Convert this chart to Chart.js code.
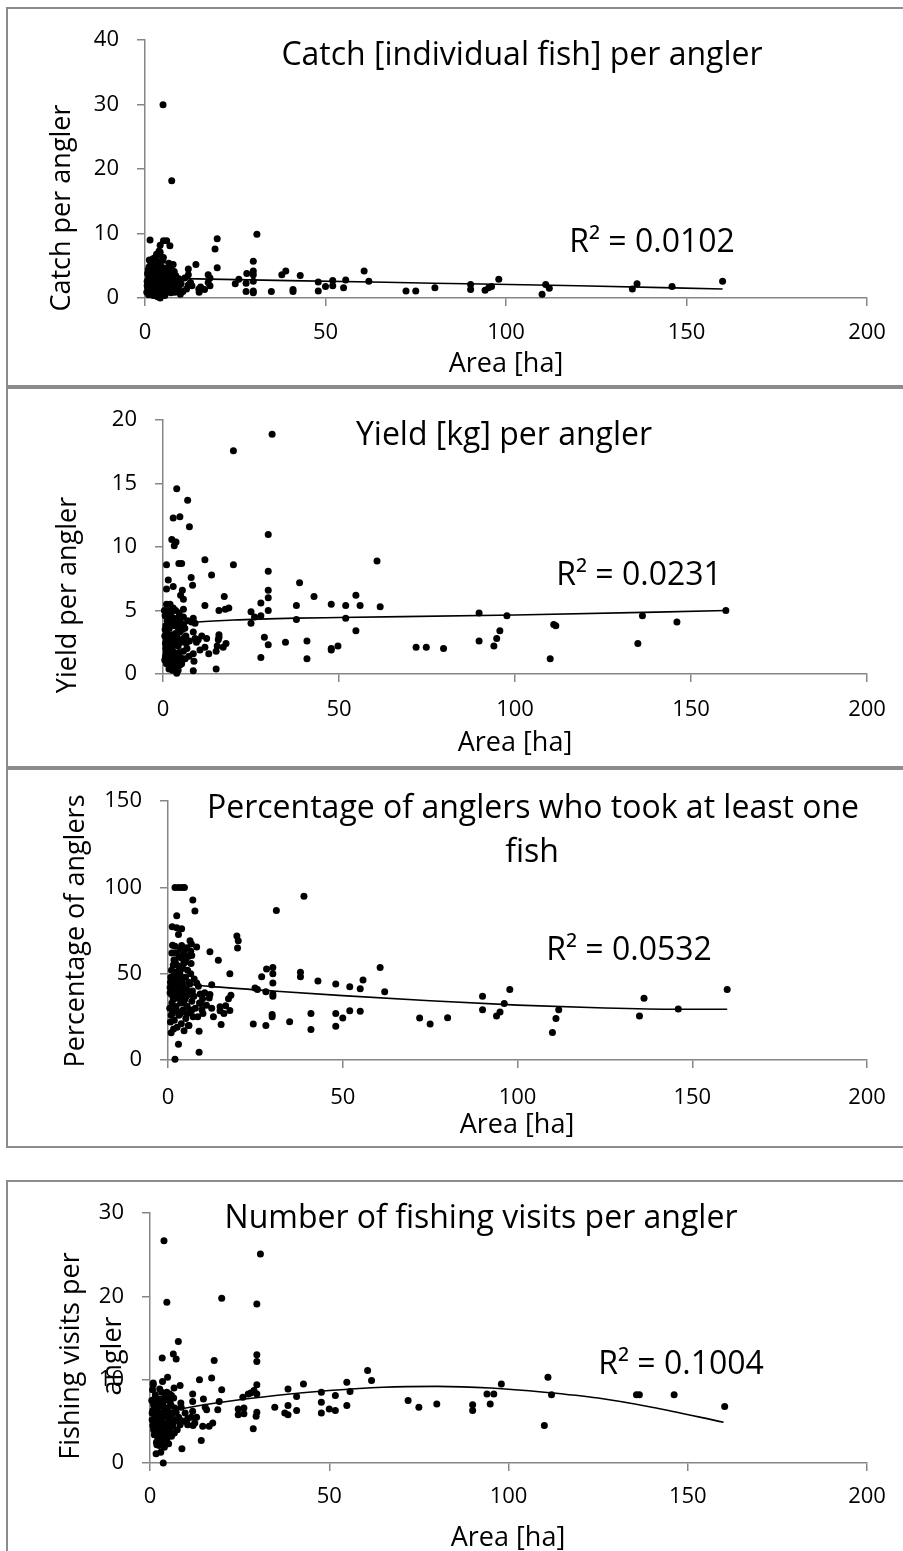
<!DOCTYPE html>
<html>
<head>
<meta charset="utf-8">
<script src="https://cdn.jsdelivr.net/npm/chart.js"></script>
<style>
body{margin:0;background:#fff;width:903px;height:1551px;overflow:hidden;position:relative;}
.box{position:absolute;left:6px;width:1000px;border:2px solid #8c8c8c;box-sizing:border-box;}
.panel{position:absolute;left:0;width:903px;}
</style>
</head>
<body>
<div class="box" style="top:7px;height:380px"></div>
<div class="box" style="top:387px;height:381px"></div>
<div class="box" style="top:768px;height:380px"></div>
<div class="box" style="top:1180px;height:500px"></div>

<div class="panel" style="top:9px;height:376px"><canvas id="c1"></canvas></div>
<div class="panel" style="top:389px;height:377px"><canvas id="c2"></canvas></div>
<div class="panel" style="top:770px;height:376px"><canvas id="c3"></canvas></div>
<div class="panel" style="top:1182px;height:369px"><canvas id="c4"></canvas></div>

<script>
// area [ha] vs value
var catchPts = [
[160,2.6],[146,1.8],[136.3,2.2],[135,1.4],[112,1.5],[111,2.1],[110,0.6],[98,2.9],[96,1.8],[95.2,1.6],
[94.2,1.2],[90.2,2.1],[90.2,1.3],[80.3,1.6],[75,1.1],[72.3,1.1],[62,2.6],[60.7,4.2],[55.6,2.8],[55,1.6],
[52,2.7],[52,1.9],[50,1.8],[48,2.5],[48,1.1],[43,3.5],[41,1.3],[41,1.0],[39,4.2],[37.9,3.6],[35,1.0],
[31,9.9],[30,5.7],[30,4.2],[30,3.6],[30,2.6],[30,1.1],[30,0.8],[28.2,3.8],[28,2.3],[28,1.0],[26,2.9],[25,2.2],
[20,9.2],[20,4.7],[19.4,7.6],[18,3.1],[18,1.9],[17.5,3.6],[17.5,2.4],[16.5,1.3],[15.4,1.7],[15,0.9],[14.9,1.4],
[14.1,5.2],[12.6,2.4],[12,4.5],[12,3.6],[12,2.0],[10,2.2],[9.4,3.0],[9,1.7],[8.5,3.5],[8.1,4.1],[8.1,2.5],
[7.8,5.2],[7.3,5.0],[7.4,18.2],[5,30],[6.9,8.1],[6.0,8.9],[5.1,8.9],[4.2,8.2],[1.4,9.0],[4.2,7.1],[3.2,6.8],
[2.8,6.3],[5.1,6.3],[2.0,5.5],[1.1,4.8],[4.2,4.3],
[0.5,0.9],[0.6,2.6],[0.8,1.5],[1.0,3.1],[1.0,0.5],[1.2,2.0],[1.3,4.1],[1.5,1.2],[1.5,3.5],[1.7,2.7],
[1.8,0.7],[2.0,4.4],[2.0,1.8],[2.2,3.0],[2.3,0.4],[2.5,2.3],[2.5,5.0],[2.7,1.4],[2.8,3.8],[3.0,0.9],
[3.0,2.7],[3.2,4.6],[3.3,1.9],[3.5,3.3],[3.5,0.2],[3.7,2.4],[3.8,5.6],[4.0,1.1],[4.0,3.9],[4.2,0.0],
[4.3,2.9],[4.5,1.6],[4.5,4.9],[4.7,0.6],[4.8,3.5],[5.0,2.1],[5.0,4.0],[5.2,1.2],[5.4,3.0],[5.5,0.4],
[5.6,2.5],[5.8,1.8],[6.0,3.6],[6.0,0.9],[6.3,2.2],[6.5,4.5],[6.6,1.4],[7.0,3.0],[7.2,0.8],[7.5,2.0],
[7.8,1.3],[8.0,3.3],[8.3,0.9],[8.6,2.6],[9.0,1.1],[9.5,1.9],[10.5,1.0],[11,3.1],[13,1.9],[2.2,6.1],
[3.6,6.6],[1.6,5.2],[0.7,3.8],[3.9,7.3],[6.6,5.4],[9.8,0.6],[11.5,1.4],
[0.6,1.9],[0.9,4.4],[1.1,1.2],[1.4,2.4],[1.9,3.3],[2.1,0.9],[2.4,4.0],[2.6,2.7],[2.9,1.6],[3.2,3.6],
[3.4,2.1],[3.7,4.3],[3.9,0.6],[4.1,2.6],[4.4,3.4],[4.6,2.2],[4.9,1.0],[5.1,3.2],[5.3,4.6],[5.6,1.5],
[5.9,2.9],[6.2,1.6],[6.4,3.9],[6.8,2.5],[7.1,1.7],[7.6,3.6],[8.2,1.8],[1.2,5.9],[3.0,5.3],[4.9,5.8]
];
var catchTrend = [[1,3.1],[40,2.7],[80,2.3],[120,1.9],[160,1.4]];

var yieldPts = [
[159.9,5.0],[146,4.1],[136.2,4.6],[134.9,2.4],[111.6,3.8],[111,3.9],[110,1.2],[97.7,4.6],[95.7,3.4],[94.8,2.8],
[94,2.2],[89.8,4.8],[89.8,2.6],[79.7,2.0],[74.8,2.1],[71.9,2.1],[61.7,5.3],[60.8,8.9],[56,5.4],[54.8,3.4],
[54.8,6.2],[51.9,4.4],[51.9,5.4],[49.7,2.2],[47.8,5.5],[47.8,2.0],[47.8,1.9],[42.9,6.1],[40.9,2.6],[40.9,1.2],
[38.8,7.2],[37.9,5.4],[37.9,4.3],[34.8,2.5],[31,18.9],[29.9,11.0],[29.9,8.1],[29.9,6.6],[29.9,6.0],[29.9,5.0],
[29.9,2.3],[28.8,2.9],[27.8,5.6],[27.8,4.6],[27.8,1.3],[26,4.5],[25,4.9],[25,4.0],[20,17.6],[20,8.6],
[18.7,5.2],[17.7,5.1],[17.4,6.1],[17.9,2.4],[17.1,2.1],[15.9,5.0],[15.9,3.1],[15.9,2.9],[15.7,2.7],[15.4,2.2],
[15.1,1.8],[15.1,0.4],[13.8,7.8],[12.4,2.8],[11.9,9.0],[11.9,5.4],[11.9,2.1],[10,2.7],[9.1,4.0],[9.1,2.8],
[8.8,1.0],[8.6,4.4],[8.6,3.3],[8.6,1.6],[8.6,0.25],[8.1,4.1],[8.0,7.6],[8.4,7.0],[7.4,1.4],[7.5,11.6],
[7.0,13.7],[3.9,14.6],[2.9,12.3],[4.8,12.4],[2.5,10.6],[3.2,10.1],[3.7,10.4],[1.0,8.6],[4.5,8.7],[5.3,8.7],
[1.5,7.4],[2.9,6.9],[1.0,6.7],[5.5,6.6],[5.0,6.2],[5.8,5.9],[5.8,5.1],[5.8,4.5],[5.8,3.9],[5.5,3.5],
[5.8,2.8],[5.3,0.8],[3.9,0.05],[1.0,0.8],[2.4,0.6],[5.0,1.3],[5.8,1.8],
[0.4,5.0],[1.5,5.0],[1.0,5.5],[2.0,5.5],[0.6,4.6],[1.2,4.2],[2.2,4.8],[3.0,4.4],[0.8,3.8],[1.8,3.6],
[2.6,3.9],[3.5,3.2],[4.2,3.7],[0.5,3.0],[1.4,2.9],[2.3,3.1],[3.1,2.6],[4.0,2.9],[4.8,3.3],[0.7,2.4],
[1.6,2.2],[2.5,2.0],[3.3,2.3],[4.3,2.2],[5.0,2.5],[0.9,1.7],[1.9,1.5],[2.8,1.8],[3.6,1.4],[4.5,1.7],
[0.5,1.1],[1.3,1.0],[2.2,1.2],[3.0,0.9],[4.0,1.0],[4.8,0.7],[1.7,0.4],[2.7,0.3],[3.4,0.5],[4.3,0.3],
[0.8,2.0],[2.0,2.6],[3.8,4.2],[4.6,4.8],[1.1,3.3],[2.9,5.2],[6.5,3.0],[6.8,2.0],[7.0,4.2],[6.3,1.2],
[7.5,2.6],[9.5,2.5],[10.5,1.9],[11,3.0],[13,1.6],
[0.6,3.5],[1.3,3.8],[2.1,4.1],[3.3,3.8],[4.1,4.4],[0.9,2.6],[1.8,2.9],[2.7,2.6],[3.7,2.7],[4.6,2.6],
[1.2,1.9],[2.0,2.1],[3.1,1.6],[4.1,1.6],[0.7,1.4],[1.6,1.1],[2.5,0.9],[3.5,1.1],[4.5,1.2],[1.4,4.6],
[2.5,4.5],[3.6,5.0],[4.9,4.1],[6.2,3.6],[6.6,2.4]
];
var yieldTrend = [[2,3.7],[4,3.85],[8,4.05],[20,4.25],[38,4.4],[50,4.45],[100,4.65],[160,5.0]];

var pctPts = [
[160,40.9],[146,29.5],[136.2,35.8],[134.9,25.5],[111.8,29.1],[111,24.0],[110,16],[97.8,40.9],[96.2,32.7],[95,27.8],
[94,25.5],[90,36.9],[90,29.1],[80,24.5],[75,20.9],[72,24.3],[62,39.5],[60.7,53.6],[55.8,46.4],[55,41.3],
[55,28.2],[52,42.4],[52,28.5],[50,24.3],[48,44.0],[48,26.9],[48,19.5],[42.9,45.8],[40.9,26.9],[40.9,17.7],
[38.9,94.9],[37.9,50.9],[37.9,48.2],[34.8,22.2],[31,86.7],[30,53.6],[30,50],[30,44.6],[30,36.9],[30,38.2],
[29.8,26.4],[29.8,25.1],[28.2,52.7],[28,39.5],[28,20],[26.8,48.2],[25.6,40.9],[24.9,41.8],[24.4,20.9],[19.7,71.8],
[20.1,69.1],[19.9,64.9],[17.7,50],[18,37.5],[17.3,35.5],[17.7,28.7],[16.5,31.5],[15.2,20.6],[14.9,30.9],[14.9,28.5],
[14.4,57.8],[12.5,43.6],[12.0,62.7],[12,38],[11.8,36],[11,31.8],[9.9,35.5],[9.2,38.2],[9.4,32.7],[9.7,29.1],
[10,27],[8.9,16.7],[8.9,4.5],[8.7,42.8],[8.2,44.6],[8.2,65.5],[7.7,86.4],[7.1,92.7],[6.3,69.1],[6.7,67.3],
[6.8,60.5],[6.5,63],[2.5,83.6],[3.0,72.7],[1.2,77.3],[2.5,76.6],[3.9,76],[1.3,66.5],[2.0,66.0],[3.9,66.3],
[2,100],[3,100],[4,100],[4.7,100],[2.0,0.4],[3.0,9.1],[0.9,15.8],
[0.5,30],[0.6,42],[0.8,48],[1.0,52],[1.0,38],[1.2,27],[1.4,44],[1.5,35],[1.7,58],[1.8,23],
[2.0,40],[2.2,47],[2.3,31],[2.5,55],[2.6,19],[2.8,36],[3.0,43],[3.1,26],[3.3,60],[3.4,50],
[3.6,33],[3.8,21],[4.0,45],[4.1,39],[4.3,29],[4.5,56],[4.6,62],[4.8,35],[5.0,48],[5.1,24],
[5.3,41],[5.5,31],[5.6,52],[5.8,20],[6.0,38],[6.2,44],[6.4,28],[6.6,56],[6.8,34],[7.0,40],
[7.2,25],[7.5,47],[7.8,30],[1.1,62],[2.1,58],[3.6,64],[4.2,53],[2.9,28],[5.8,60],[0.7,22],
[1.6,18],[4.6,17],[3.2,37],[5.4,65],[6.0,20],[3.5,42],[2.4,51],[0.6,39],[9.0,33],[10.5,39],
[13,25],[12.5,30],[16,27],[8.5,25],
[0.7,45],[1.3,41],[1.9,50],[2.6,44],[3.2,54],[3.9,48],[4.4,42],[5.2,37],[5.9,45],[6.5,50],
[1.1,33],[1.9,29],[2.7,39],[3.6,27],[4.5,33],[5.5,27],[6.8,29],[7.4,37],[1.5,55],[4.0,59],
[2.4,62],[5.1,57],[0.9,26],[2.1,36],[3.9,36]
];
var pctTrend = [[1,44.8],[12,42.7],[30,40.0],[50,37.3],[75,34.3],[100,31.8],[125,30.1],[146,29.4],[160,29.4]];

var visitsPts = [
[160.3,6.8],[146.2,8.2],[136.5,8.2],[135.7,8.2],[112,8.2],[111,10.3],[110,4.5],[98,9.5],[95.9,8.3],[94,8.3],
[94.9,7.1],[90,7.0],[90,6.3],[80,7.1],[75,6.7],[72,7.5],[61.8,9.9],[60.7,11.1],[55.8,8.6],[54.9,9.7],
[54.9,6.9],[51.7,8.1],[51.7,6.3],[50,6.5],[47.8,8.5],[47.8,7.3],[47.8,6.0],[42.8,9.5],[40.9,8.0],[40.9,6.3],
[38.5,8.9],[38.5,6.9],[37.6,6.0],[38.5,5.8],[34.8,6.7],[30.8,25.1],[29.8,19.1],[29.8,13.0],[29.8,12.2],[29.8,9.4],
[29.8,8.3],[29.8,6.1],[29.6,5.6],[29,8.7],[28.8,4.1],[28.1,8.4],[27.4,8.3],[26.2,6.6],[26.2,5.9],[25.9,7.9],
[24.6,6.5],[24.6,5.8],[20,19.8],[20,8.8],[19.3,7.4],[18.9,6.4],[17.9,12.3],[17.2,10.2],[17.5,4.8],[16.5,4.4],
[15.8,6.4],[15.4,6.7],[14.9,7.7],[14.7,4.4],[14.3,2.7],[13.8,10.0],[11.9,8.3],[11.9,7.4],[11.9,6.2],[11.5,5.5],
[10.5,4.6],[12.5,4.8],[8.9,1.7],[8.4,9.3],[8.6,7.2],[8.7,6.7],[8.6,5.1],[7.9,14.6],[7.3,12.5],[6.5,13.1],
[3.4,12.6],[4.7,19.3],[3.9,26.7],[3.7,0.0],[1.7,1.1],[4.9,10.3],[0.9,9.6],[0.9,9.4],[4.7,8.5],[5.5,8.3],
[6.0,8.1],[5.9,6.9],
[0.5,7.5],[0.6,5.2],[0.8,6.3],[1.0,4.0],[1.0,7.0],[1.2,3.4],[1.3,5.8],[1.5,8.2],[1.6,4.7],[1.8,2.5],
[2.0,6.6],[2.1,3.9],[2.3,5.3],[2.5,7.7],[2.6,2.1],[2.8,4.4],[3.0,6.0],[3.1,3.0],[3.3,8.5],[3.4,5.0],
[3.6,7.1],[3.7,2.6],[3.9,4.1],[4.1,6.4],[4.2,3.5],[4.4,5.6],[4.5,7.6],[4.7,2.9],[4.9,4.8],[5.0,6.2],
[5.2,3.8],[5.4,5.3],[5.6,7.3],[5.8,4.3],[6.0,3.2],[6.2,5.9],[6.4,4.6],[6.6,7.8],[6.8,3.6],[7.0,5.2],
[7.3,6.1],[7.6,4.0],[8.0,5.5],[8.4,4.6],[9.2,5.0],[9.8,6.0],[10.5,5.3],[3.0,1.3],[2.2,2.9],[4.0,1.9],
[5.2,2.3],[1.4,6.7],[2.7,8.9],[0.7,8.8],[6.7,9.0],[3.5,9.8],[12.0,4.5],[13,5.5],
[0.6,6.0],[1.1,5.0],[1.9,5.9],[2.6,6.8],[3.2,4.6],[3.9,5.6],[4.6,6.6],[5.3,4.4],[6.1,5.0],[6.9,6.6],
[0.8,4.5],[1.5,3.6],[2.4,4.3],[3.4,3.6],[4.4,4.2],[5.5,6.0],[7.5,5.1],[1.2,7.7],[2.3,7.2],[4.0,7.8],
[5.1,7.6],[2.9,3.3],[4.9,3.3],[1.9,2.2],[3.5,2.3]
];
var visitsTrend = [[1,5.7],[10,6.6],[20,7.3],[35,8.1],[50,8.7],[65,9.1],[80,9.2],[95,9.0],[110,8.5],[125,7.8],[140,6.7],[160,4.9]];

var titles = ['Catch [individual fish] per angler', 'Yield [kg] per angler',
  'Percentage of anglers who took at least one', 'fish', 'Number of fishing visits per angler'];
var r2Labels = ['R² = 0.0102', 'R² = 0.0231', 'R² = 0.0532', 'R² = 0.1004'];
var yTitles = ['Catch per angler', 'Yield per angler', 'Percentage of anglers', 'Fishing visits per', 'angler'];
var xTitle = 'Area [ha]';

var FONT = "'Open Sans', 'Liberation Sans', sans-serif";
var AXIS = '#868686';

function toXY(arr) {
  return arr.map(function (p) { return {x: p[0], y: p[1]}; });
}

// draws titles, R² and axis titles on top of the chart
function textPlugin(items) {
  return {
    id: 'panelText',
    afterDraw: function (chart) {
      var ctx = chart.ctx;
      items.forEach(function (t) {
        ctx.save();
        ctx.font = t.size + 'px ' + FONT;
        ctx.fillStyle = '#000';
        ctx.textAlign = 'center';
        ctx.textBaseline = 'alphabetic';
        ctx.translate(t.x, t.y);
        if (t.rot) ctx.rotate(-Math.PI / 2);
        ctx.fillText(t.text, 0, 0);
        ctx.restore();
      });
    }
  };
}

function makePanel(id, pts, trend, yMax, yStep, g, items) {
  return new Chart(document.getElementById(id), {
    type: 'scatter',
    data: {
      datasets: [
        {data: toXY(pts), pointRadius: 3.5, pointHoverRadius: 3.5, backgroundColor: '#000',
         borderWidth: 0, clip: false, order: 1},
        {type: 'line', data: toXY(trend), borderColor: '#000', borderWidth: 1.6, pointRadius: 0,
         fill: false, cubicInterpolationMode: 'monotone', clip: false, order: 2}
      ]
    },
    options: {
      responsive: true,
      maintainAspectRatio: false,
      animation: false,
      layout: {padding: {left: 0, top: g.top, right: 36, bottom: 0}},
      plugins: {legend: {display: false}, tooltip: {enabled: false}},
      scales: {
        x: {
          type: 'linear', min: 0, max: 200,
          afterFit: function (s) { s.height = g.xh; },
          ticks: {stepSize: 50, color: '#000', padding: g.xpad, font: {family: FONT, size: 22}},
          grid: {drawOnChartArea: false, tickLength: 8, color: AXIS, lineWidth: 1.5},
          border: {color: AXIS, width: 1.5}
        },
        y: {
          type: 'linear', min: 0, max: yMax,
          afterFit: function (s) { s.width = g.left; },
          ticks: {stepSize: yStep, color: '#000', padding: 18, font: {family: FONT, size: 22}},
          grid: {drawOnChartArea: false, tickLength: 8, color: AXIS, lineWidth: 1.5},
          border: {color: AXIS, width: 1.5}
        }
      }
    },
    plugins: [textPlugin(items)]
  });
}

makePanel('c1', catchPts, catchTrend, 40, 10, {left: 145, top: 15, xh: 87, xpad: 14}, [
  {text: titles[0], x: 522, y: 56, size: 32},
  {text: r2Labels[0], x: 652, y: 243, size: 32},
  {text: xTitle, x: 506, y: 363, size: 27},
  {text: yTitles[0], x: 70, y: 199, size: 27, rot: true}
]);
makePanel('c2', yieldPts, yieldTrend, 20, 5, {left: 163, top: 16, xh: 92, xpad: 15}, [
  {text: titles[1], x: 504, y: 56, size: 32},
  {text: r2Labels[1], x: 639, y: 196, size: 32},
  {text: xTitle, x: 515, y: 362, size: 27},
  {text: yTitles[1], x: 76, y: 206, size: 27, rot: true}
]);
makePanel('c3', pctPts, pctTrend, 150, 50, {left: 168, top: 15, xh: 86, xpad: 17}, [
  {text: titles[2], x: 533, y: 48, size: 32},
  {text: titles[3], x: 532, y: 92, size: 32},
  {text: r2Labels[2], x: 629, y: 190, size: 32},
  {text: xTitle, x: 517, y: 363, size: 27},
  {text: yTitles[2], x: 84, y: 161, size: 27, rot: true}
]);
makePanel('c4', visitsPts, visitsTrend, 30, 10, {left: 150, top: 16, xh: 88, xpad: 13}, [
  {text: titles[4], x: 481, y: 46, size: 32},
  {text: r2Labels[3], x: 681, y: 192, size: 32},
  {text: xTitle, x: 508, y: 364, size: 27},
  {text: yTitles[3], x: 79, y: 174, size: 27, rot: true},
  {text: yTitles[4], x: 121, y: 174, size: 27, rot: true}
]);
</script>
</body>
</html>
